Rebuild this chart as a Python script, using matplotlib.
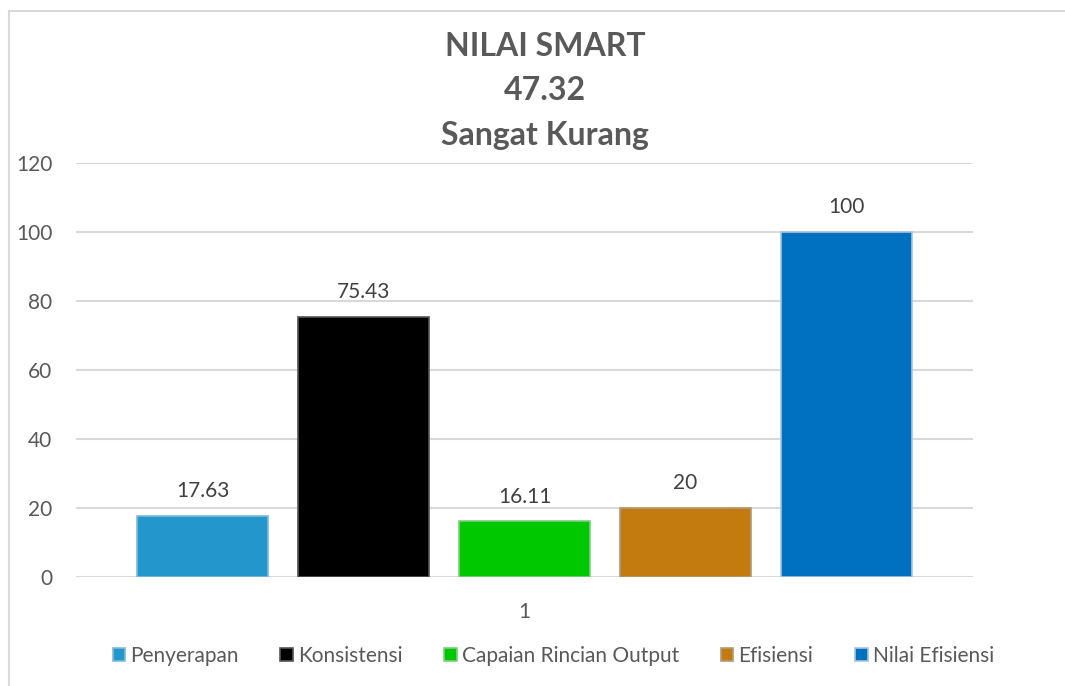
import matplotlib
matplotlib.use('Agg')
import matplotlib.pyplot as plt
from matplotlib.patches import Rectangle
import numpy as np

plt.rcParams['font.family'] = ['Lato', 'DejaVu Sans']

# data
names = ['Penyerapan', 'Konsistensi', 'Capaian Rincian Output', 'Efisiensi', 'Nilai Efisiensi']
values = [17.63, 75.43, 16.11, 20, 100]
labels = ['17.63', '75.43', '16.11', '20', '100']
colors = ['#2397CB', '#000000', '#00C800', '#C37B10', '#0070C0']
edges = ['#7fb9d8', '#555555', '#7fcf7f', '#b39a7a', '#a9c4dd']
title_lines = ['NILAI SMART', '47.32', 'Sangat Kurang']
category = '1'

grey = '#595959'

fig = plt.figure(figsize=(10.65, 6.86), dpi=100)
# chart frame
fig.patches.append(Rectangle((9/1065, -0.05), 1.1, (686-11)/686 + 0.05,
                             transform=fig.transFigure, fill=False,
                             edgecolor='#d9d9d9', linewidth=1.5))

ax = fig.add_axes([76/1065, 1 - 577/686, (973-76)/1065, (577-163)/686])

step = 0.1795
width = 0.146
for i, (n, v, c, e, l) in enumerate(zip(names, values, colors, edges, labels)):
    x = (i - 2) * step
    ax.bar(x, v, width=width, color=c, edgecolor=e, linewidth=1.2, label=n, zorder=3)
    ax.text(x, v + 4.3, l, ha='center', va='bottom', fontsize=15, color='#404040')

ax.set_xlim(-0.5, 0.5)
ax.set_ylim(0, 120)
ax.set_yticks(np.arange(0, 121, 20))
ax.set_xticks([0])
ax.set_xticklabels([category])
ax.tick_params(axis='both', length=0, labelsize=15, labelcolor=grey)
ax.tick_params(axis='x', pad=18)
ax.tick_params(axis='y', pad=17)
ax.grid(axis='y', color='#d9d9d9', linewidth=1.5, zorder=0)
for s in ax.spines.values():
    s.set_visible(False)

ys = [46, 91, 135]
for t, y in zip(title_lines, ys):
    fig.text(545/1065, 1 - y/686, t, ha='center', va='center',
             fontsize=23, fontweight='bold', color=grey)

leg = ax.legend(loc='center', bbox_to_anchor=(0.532, 1 - (656 - 163)/(577-163)),
                ncol=5, frameon=False, fontsize=15, handlelength=0.6,
                handleheight=0.6, handletextpad=0.25, columnspacing=2.0)
for t in leg.get_texts():
    t.set_color(grey)

plt.savefig('out.png', dpi=100)
